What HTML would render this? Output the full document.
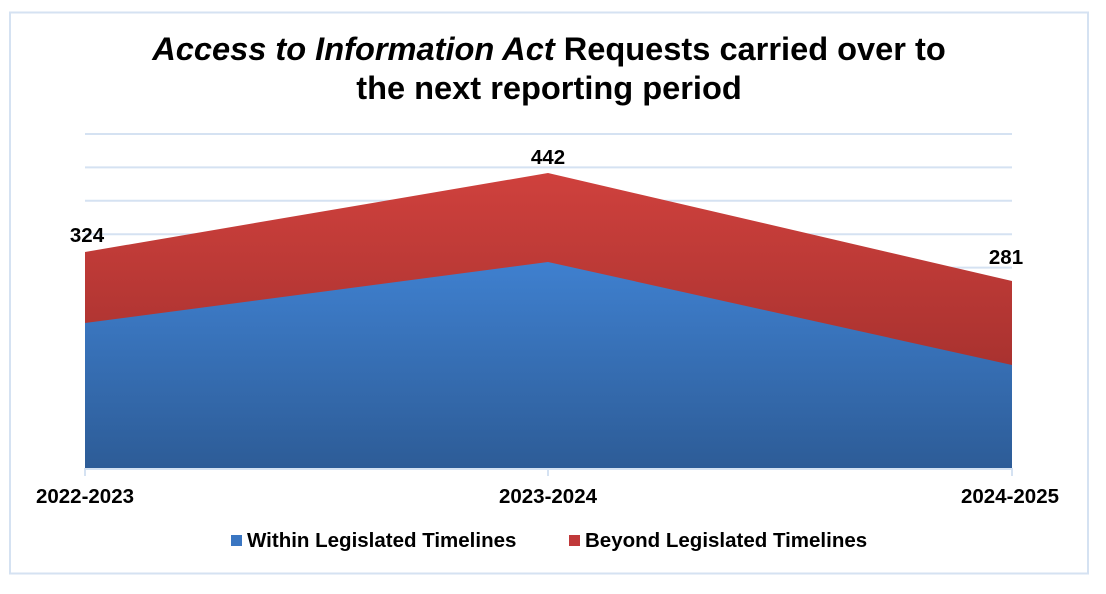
<!DOCTYPE html>
<html><head><meta charset="utf-8"><style>
html,body{margin:0;padding:0;background:#fff;}
body{width:1106px;height:589px;overflow:hidden;font-family:"Liberation Sans",Arial,sans-serif;}
</style></head><body>
<svg width="1106" height="589" xmlns="http://www.w3.org/2000/svg" font-family="Liberation Sans, Arial, sans-serif">
<defs>
<linearGradient id="gb" x1="0" y1="0" x2="0" y2="1"><stop offset="0" stop-color="#3f80cf"/><stop offset="1" stop-color="#2d5c97"/></linearGradient>
<linearGradient id="gr" x1="0" y1="0" x2="0" y2="1"><stop offset="0" stop-color="#cf413d"/><stop offset="1" stop-color="#952a28"/></linearGradient>
</defs>
<rect x="10" y="12.5" width="1078" height="561" fill="#fff" stroke="#d5e2f2" stroke-width="2"/>
<text x="549" y="60" font-size="32.6" font-weight="bold" text-anchor="middle"><tspan font-style="italic">Access to Information Act</tspan> Requests carried over to</text>
<text x="549" y="99" font-size="32.6" font-weight="bold" text-anchor="middle">the next reporting period</text>
<g stroke="#d5e2f2" stroke-width="2">
<line x1="85" y1="134" x2="1012" y2="134"/><line x1="85" y1="167.4" x2="1012" y2="167.4"/>
<line x1="85" y1="200.8" x2="1012" y2="200.8"/><line x1="85" y1="234.2" x2="1012" y2="234.2"/>
<line x1="85" y1="267.6" x2="1012" y2="267.6"/><line x1="85" y1="301" x2="1012" y2="301"/>
<line x1="85" y1="334.4" x2="1012" y2="334.4"/><line x1="85" y1="367.8" x2="1012" y2="367.8"/>
<line x1="85" y1="401.2" x2="1012" y2="401.2"/><line x1="85" y1="434.6" x2="1012" y2="434.6"/>
</g>
<polygon points="85,252 548,173 1012,281 1012,468 85,468" fill="url(#gr)"/>
<polygon points="85,323 548,262 1012,365 1012,468 85,468" fill="url(#gb)"/>
<g stroke="#d5e2f2" stroke-width="2"><line x1="85" y1="469" x2="1012" y2="469"/>
<line x1="85" y1="468" x2="85" y2="476"/><line x1="548" y1="468" x2="548" y2="476"/><line x1="1012" y1="468" x2="1012" y2="476"/></g>
<g font-size="20.5" font-weight="bold" text-anchor="middle">
<text x="87" y="242">324</text><text x="548" y="164">442</text><text x="1006" y="264">281</text>
<text x="85" y="503">2022-2023</text><text x="548" y="503">2023-2024</text><text x="1010" y="503">2024-2025</text>
</g>
<rect x="231" y="535" width="11" height="11" fill="#3a76c2"/>
<text x="247" y="547" font-size="20.5" font-weight="bold">Within Legislated Timelines</text>
<rect x="569" y="535" width="11" height="11" fill="#c0393a"/>
<text x="585" y="547" font-size="20.5" font-weight="bold">Beyond Legislated Timelines</text>
</svg>
</body></html>
